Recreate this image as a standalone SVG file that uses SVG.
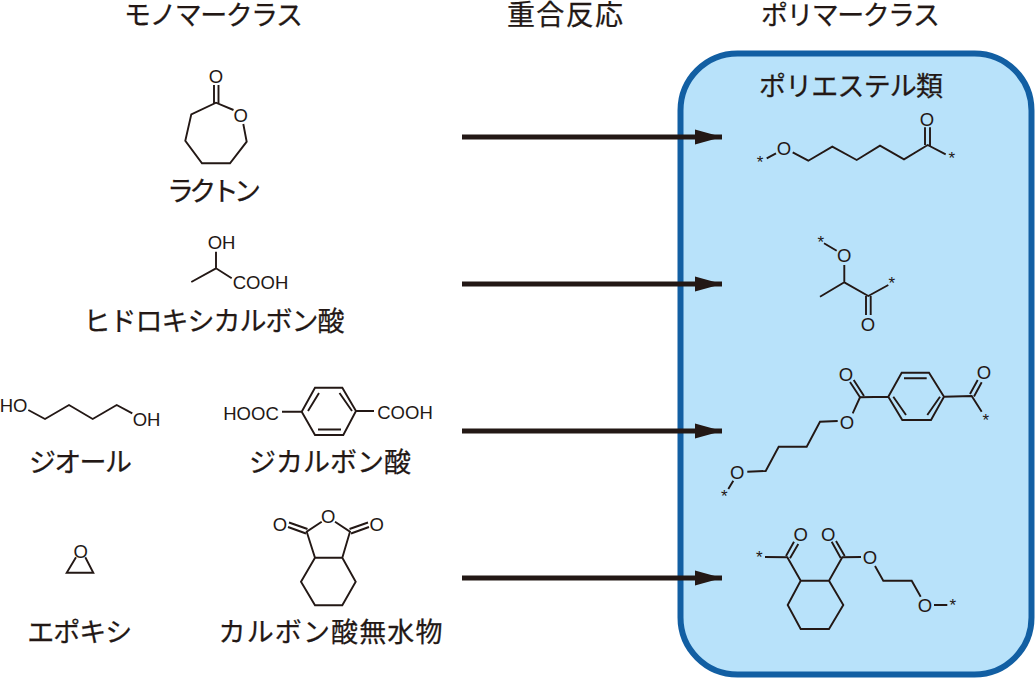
<svg xmlns="http://www.w3.org/2000/svg" width="1036" height="678" viewBox="0 0 1036 678">
<style>
text{fill:#231815}
.jp{font-family:"Noto Sans CJK JP","Noto Sans",sans-serif;font-size:27px;text-anchor:middle;stroke:#231815;stroke-width:.25}
.a{font-family:"Liberation Sans",Arial,sans-serif;font-size:18.500px;text-anchor:middle}
.s{font-family:"Liberation Sans",Arial,sans-serif;font-size:17px;text-anchor:middle}
.b{fill:none;stroke:#231815;stroke-width:1.900;stroke-linejoin:miter;stroke-linecap:butt}
.arr{fill:none;stroke:#231815;stroke-width:5}
</style>
<defs>
<marker id="head" markerUnits="userSpaceOnUse" markerWidth="30" markerHeight="18" refX="28" refY="9" orient="auto">
<path d="M1 1.500L28 9L1 16.500z" fill="#231815"/>
</marker>
</defs>
<rect id="polymer-box" x="680.500" y="53.500" width="351" height="621" rx="57" ry="57" fill="#b8e2fa" stroke="#125fa3" stroke-width="6"/>
<g id="headers">
<text class="jp" x="213.500" y="24.500" textLength="179">モノマークラス</text>
<text class="jp" x="565" y="24.500" textLength="116" style="font-size:28px">重合反応</text>
<text class="jp" x="850.500" y="24.500" textLength="179">ポリマークラス</text>
<text class="jp" x="851" y="95.500" textLength="184">ポリエステル類</text>
</g>
<g id="connectors">
<path class="arr" marker-end="url(#head)" d="M462 137H722"/>
<path class="arr" marker-end="url(#head)" d="M462 284H722"/>
<path class="arr" marker-end="url(#head)" d="M462 431H722"/>
<path class="arr" marker-end="url(#head)" d="M462 578H722"/>
</g>
<g id="lactone">
<path class="b" d="M233.500 110L216 102.700L191.300 114.300L185.300 140.700L202 163.300H230L246.700 141.700L243.300 124"/>
<path class="b" d="M214 103V85M218.500 103V85"/>
<text class="a" x="216" y="83.300">O</text>
<text class="a" x="240.700" y="122.300">O</text>
<text class="jp" x="214" y="201" textLength="94">ラクトン</text>
</g>
<g id="hydroxy-acid">
<path class="b" d="M216 251.700V268.300M191.300 282L216 268.300L231.700 278.300"/>
<text class="a" x="221.500" y="248.500">OH</text>
<text class="a" x="260.500" y="289">COOH</text>
<text class="jp" x="214" y="331" textLength="261">ヒドロキシカルボン酸</text>
</g>
<g id="diol">
<path class="b" d="M28.300 410L45 419L69 405L92.700 419L116.700 405L132.300 413.300"/>
<text class="a" x="13.500" y="412">HO</text>
<text class="a" x="146.500" y="425.500">OH</text>
<text class="jp" x="80.400" y="472" textLength="103">ジオール</text>
</g>
<g id="diacid">
<path class="b" d="M282 411.700H301.700L315 387.700H342.300L356 411L343.300 435H315L301.700 411.700M356 411H374"/>
<path class="b" d="M308 411L319 393M339.500 393L352 411M318 429.500H341"/>
<text class="a" x="251" y="419.500">HOOC</text>
<text class="a" x="405" y="418.500">COOH</text>
<text class="jp" x="330" y="472" textLength="162">ジカルボン酸</text>
</g>
<g id="epoxy">
<path class="b" d="M76 557.300L66.700 572.700H93.300L85.300 557.300"/>
<text class="a" x="80.700" y="557.500">O</text>
<text class="jp" x="79.700" y="642" textLength="105">エポキシ</text>
</g>
<g id="anhydride">
<path class="b" d="M321.700 521.700L306.700 531.700L315 557.700H342.300L350 531.700L335 521.700M315 557.700L301 581.700L315 605.300H342.300L355.700 581.700L342.300 557.700"/>
<path class="b" d="M289 522.500L307.500 529M288 527L306 533.500M368 522.500L349.500 529M369 527L351 533.500"/>
<text class="a" x="328.300" y="523">O</text>
<text class="a" x="280" y="530.500">O</text>
<text class="a" x="376.700" y="530.500">O</text>
<text class="jp" x="330.500" y="642" textLength="224">カルボン酸無水物</text>
</g>
<g id="polyester-1">
<path class="b" d="M766.700 158.300L776 153.300M792.700 152.300L808.300 160.700L832.300 146.700L856.700 160L880 145.700L904 159.300L927.700 145L945.700 154.300"/>
<path class="b" d="M925 127.300V145M930 127.300V146"/>
<text class="s" x="760" y="168.300">*</text>
<text class="a" x="784" y="154.900">O</text>
<text class="a" x="927" y="125.600">O</text>
<text class="s" x="951.700" y="164">*</text>
</g>
<g id="polyester-2">
<path class="b" d="M824 243.300L836.700 250.700M844.300 265V282.300L820 296.700M844.300 282.300L868.300 296L888.300 285"/>
<path class="b" d="M866 296V315M870.700 296V315"/>
<text class="s" x="820.700" y="247.700">*</text>
<text class="a" x="844.300" y="262.300">O</text>
<text class="s" x="891.700" y="289">*</text>
<text class="a" x="868" y="330.900">O</text>
</g>
<g id="polyester-3">
<path class="b" d="M733.300 480.700L728.300 489M747.300 471.700L765.700 471L778.700 446.700H806.700L820 421.700L837.700 421M852.700 413.300L860 397.300L888.300 396.700L901.700 372.700H929L944 396.700L931 420H902.300L888.300 396.700M944 396.700L971.700 396L981.700 411.700"/>
<path class="b" d="M904 378.300H926.700M893.300 396.700L906 415M927.300 415L940 396.700"/>
<path class="b" d="M850 382L860.500 398M853.700 380L864 396M970 394L977.700 380M974 396.500L981.700 382.300"/>
<text class="a" x="846" y="380.900">O</text>
<text class="a" x="847" y="428.600">O</text>
<text class="a" x="984" y="379.300">O</text>
<text class="a" x="737.300" y="479.300">O</text>
<text class="s" x="985.700" y="425.700">*</text>
<text class="s" x="724.300" y="502">*</text>
</g>
<g id="polyester-4">
<path class="b" d="M765 557L787.300 557.300L800.700 580.700H829L843.300 605L829 629H800.700L787.700 605L800.700 580.700M829 580.700L842.300 557.300L861 557M875 566L883.300 580.700H911.700L920.700 596.700M934 605H947.300"/>
<path class="b" d="M786 556L794 541.700M790 558.300L798.300 544M831.700 541.700L840.700 558M836 541L844.700 556"/>
<text class="s" x="759.300" y="563">*</text>
<text class="a" x="800.700" y="540.600">O</text>
<text class="a" x="828.300" y="540.600">O</text>
<text class="a" x="870" y="564.300">O</text>
<text class="a" x="925" y="612.300">O</text>
<text class="s" x="952.700" y="610.700">*</text>
</g>
</svg>
